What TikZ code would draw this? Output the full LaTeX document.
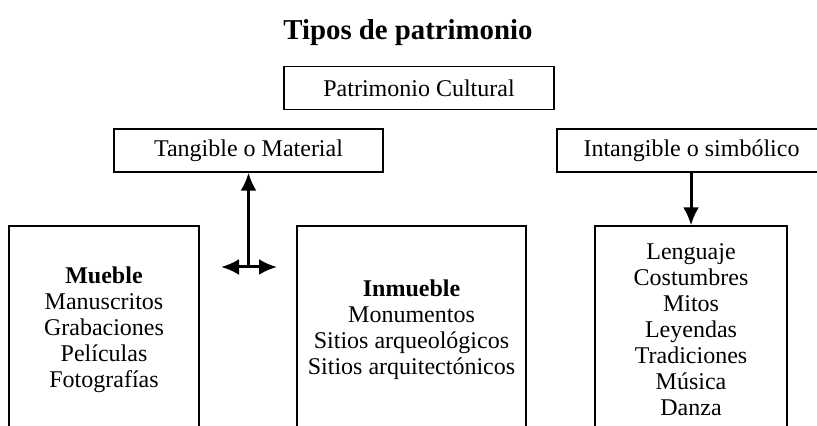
\documentclass[tikz,border=0pt]{standalone}
\usepackage{fontspec}
\setmainfont{Liberation Serif}
\usetikzlibrary{arrows.meta}
\tikzset{
	caja/.style={draw, line width=0.6pt, minimum height=21.5pt, inner sep=0pt, font=\fontsize{12}{13}\selectfont},
	cajalarga/.style={draw, line width=0.6pt, minimum height=104pt, inner sep=0pt, align=center, font=\fontsize{12}{13}\selectfont},
	flecha/.style={line width=1.5pt, -{Latex[length=9pt,width=8pt]}},
	flechados/.style={line width=1.5pt, {Latex[length=9pt,width=8pt]}-{Latex[length=9pt,width=8pt]}}
}

\begin{document}
\begin{tikzpicture}[x=0.5pt, y=-0.5pt]
				\useasboundingbox (0, 0) rectangle (817, 426);
				\clip (0, 0) rectangle (817, 426);
				
				\node[font=\fontsize{14.4}{16}\selectfont\bfseries] (titulo) at (408, 33) {Tipos de patrimonio};
				
				\node[caja, minimum width=135pt] (patrimonio) at (419, 88) {Patrimonio Cultural};
				\node[caja, minimum width=134.5pt] (tangible) at (248.5, 150.5) {Tangible o Material};
				\node[caja, minimum width=140pt] (intangible) at (697, 150.5) {\hspace*{-5.5pt}Intangible o simbólico};
				
				\node[cajalarga, minimum width=95pt] (mueble) at (104, 330) {\textbf{Mueble}\\Manuscritos\\Grabaciones\\Películas\\Fotografías};
				\node[cajalarga, minimum width=114.5pt] (inmueble) at (411.5, 330) {\textbf{Inmueble}\\Monumentos\\Sitios arqueológicos\\Sitios arquitectónicos};
				\node[cajalarga, minimum width=96pt] (lista) at (691, 330) {Lenguaje\\Costumbres\\Mitos\\Leyendas\\Tradiciones\\Música\\Danza};
				
				\coordinate (cruce) at (248.5, 267);
				\coordinate (izq) at (221, 267);
				\coordinate (der) at (277, 267);
				
				\draw[flecha] (cruce) -- (tangible.south);
				\draw[flechados] (izq) -- (der);
				\draw[flecha] (intangible.south -| lista.north) -- (lista.north);
			\end{tikzpicture}
\end{document}
